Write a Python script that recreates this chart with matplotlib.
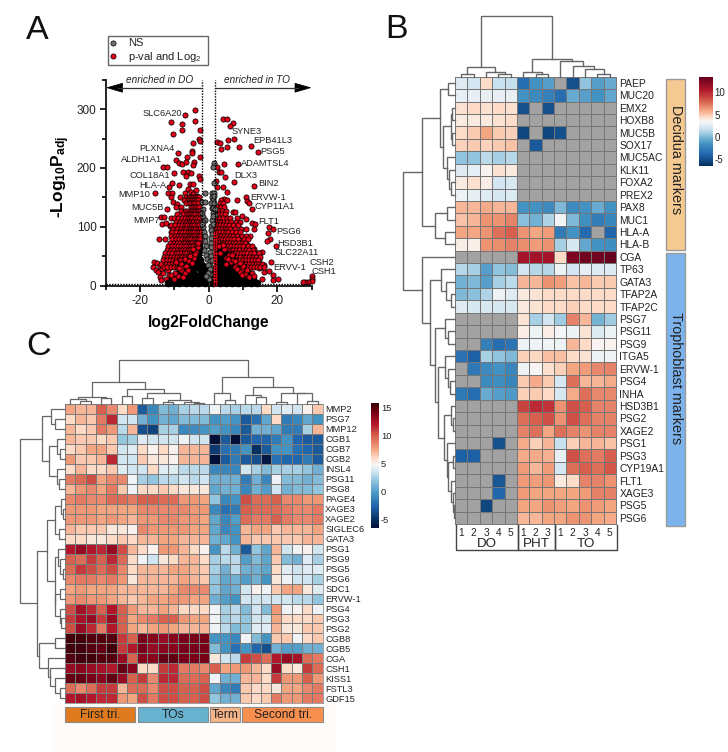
import matplotlib
matplotlib.use('Agg')
import matplotlib.pyplot as plt
import numpy as np
from matplotlib.colors import LinearSegmentedColormap, Normalize
from matplotlib.patches import Rectangle, Polygon

plt.rcParams['font.family'] = ['Liberation Sans', 'DejaVu Sans']
plt.rcParams['mathtext.fontset'] = 'custom'
plt.rcParams['mathtext.rm'] = 'Liberation Sans'
plt.rcParams['mathtext.bf'] = 'Liberation Sans:bold'
plt.rcParams['mathtext.default'] = 'regular'
plt.rcParams['axes.unicode_minus'] = False

nan = float('nan')

# panel A: volcano points
far_x = [-3.9,-6.9,-10.9,-7.6,-4,-7.7,-2.5,-10.3,-2.8,-2.4,-4.6,-8.8,-4.9,-4.9,-6.3,-2.4,-9.5,-4.1,-8.6,-7.8,-6.7,-4.4,-13.2,-12,-10.2,-7.4,-6,-5,-2.8,-2.6,-6.7,-5.5,-10.5,-11.5,-8.5,-15.5,-11.7,-10.5,-4.5,-5.9,-3.7,-6.9,-11,-10.4,-9.3,-5.2,-4.4,-3.5,-12.1,-13.8,-12.9,-13.5,-12.3,-11.2,-14.3,-11,-9.2,-7.7,
         4.3,5.5,7,6.1,7.3,5.7,2.6,3.4,5.4,3.6,9,12.5,14.3,4.4,8.5,2.6,3.1,3.6,4.8,2.2,7.5,13.3,2.4,4.1,5.3,11,11.2,11.7,8.4,12.6,4.4,5.3,7,7.6,9.7,10.9,12.6,13.6,17.5,18.9,17.3,13.1,17.8,17,19.5,18.3,17.6,18.9,18.7,20.1,15.5,30,30,30,29,28,27.4,12.2,9.2,10.8,11.7,13.2,14.3,15.6,14.7,16.1,13.4,14.8,16,12.5]
far_y = [298,290,278,275,279,265,265,257,250,246,242,225,229,225,219,218,214,211,208,206,210,205,201,202,192,193,194,191,187,181,187,172,174,168,171,157,158,158,172,165,163,157,150,143,138,160,156,153,130,116,116,104,107,102,79,92,91,102,
         283,283,277,272,250,247,245,243,236,233,236,238,228,207,206,201,194,193,185,178,176,169,168,167,160,150,144,141,146,130,148,146,126,125,119,114,107,105,99,96,89,96,79,76,67,41,25,18,10,11,12,16,12,8,7,7,6,85,78,72,68,62,55,58,46,35,40,30,24,31]

lobe_x = [-16,-16.2,-15,-14.2,-15.4,-14.7,-13.6,-13,-12.2,-13.3,-14.1,-12.5,-11.8,-11,-12.8,-10.7,-13.7,-11.5,-10.2]
lobe_y = [40,32,38,33,27,24,29,36,33,22,15,12,27,40,44,33,9,18,45]

band_y = [150,145,140,133,127,121,115,109,103,97,91,85,79,73,67,61,55,49,43,37,31]
band_x = [[-8.2,-6.5,-5.8,-5.2,-4.6,-4,-3.4,-2.9],
          [-7.1,-6,-5.4,-4.8,-4.2,-3.7,-3,3.6],
          [-6.6,-5.7,-5.1,-4.4,-3.9,-3.2,3.2,4.1],
          [-9.4,-7.9,-5.2,-4.6,-4,-3.3,-2.7,2.6,3.5,4.6],
          [-8.1,-6.9,-6.2,-5.5,-4.9,-4.2,-3.6,-3,-2.4,2.3,2.9,3.8,5.1],
          [-9.2,-7.3,-6.4,-5.8,-5.1,-4.5,-3.8,-3.1,-2.5,2.2,3.1,4,4.9],
          [-11,-10.2,-9,-7.8,-6.8,-6,-5.3,-4.7,-4,-3.3,-2.6,2.4,3.3,4.2,5.3,6.1,8.2],
          [-9.6,-8.4,-7.4,-6.5,-5.8,-5.1,-4.4,-3.7,-3,-2.3,2.2,2.9,3.7,4.6,5.4,6.5,7.9,9.2],
          [-10.8,-9.9,-8.7,-7.6,-6.8,-6.2,-5.5,-4.8,-4.1,-3.4,-2.7,2.5,3.3,4.1,5,5.9,7.2,8.6],
          [-10.4,-9.3,-8,-7.2,-6.5,-5.8,-5.1,-4.5,-3.8,-3.1,-2.4,2.3,3,3.9,4.7,5.5,6.3,7.7,9.4,10.9],
          [-10.6,-9.5,-8.4,-7.6,-6.9,-6.1,-5.4,-4.8,-4.2,-3.5,-2.8,-2.2,2.6,3.4,4.2,5,5.8,6.7,8,9.1],
          [-11,-9.9,-8.8,-7.9,-7.2,-6.5,-5.8,-5.1,-4.5,-3.9,-3.2,-2.5,2.2,2.9,3.7,4.5,5.3,6.2,7.1,8.4,9.6,10.8],
          [-12.6,-10.7,-9.6,-8.6,-7.8,-7,-6.3,-5.6,-5,-4.3,-3.7,-3,-2.4,2.4,3.2,4,4.8,5.6,6.5,7.4,8.6,10.2,11.4],
          [-11.3,-10.2,-9.2,-8.3,-7.5,-6.8,-6.1,-5.4,-4.7,-4,-3.3,-2.6,2.2,3,3.8,4.6,5.4,6.2,7,7.9,8.8,9.7,10.5],
          [-11.8,-10.6,-9.7,-8.8,-8,-7.2,-6.5,-5.8,-5.1,-4.4,-3.7,-3,2.5,3.3,4.1,4.9,5.7,6.6,7.4,8.3,9.2,10.1,11.6,12.6],
          [-12.2,-11,-10.1,-9.2,-8.4,-7.6,-6.8,-6.1,-5.4,-4.6,-3.9,-3.2,2.3,3,3.9,4.7,5.5,6.4,7.2,8.1,9,10,10.8,11.9,12.9],
          [-12.7,-11.6,-10.5,-9.6,-8.8,-8,-7.2,-6.5,-5.8,-5,-4.3,2.7,3.6,4.4,5.3,6.1,7,7.8,8.7,9.5,10.4,11.3,12.3,13.3,14.6],
          [-13.1,-12,-10.9,-10,-9.2,-8.4,-7.6,-6.9,-6.1,-5.4,3.2,4.1,5,5.8,6.7,7.5,8.4,9.3,10.2,11,11.9,12.8,13.9,15.1],
          [-13.4,-12.2,-11.2,-10.3,-9.5,-8.7,-7.9,-7.2,-6.5,3.8,4.7,5.6,6.5,7.3,8.2,9.1,10,10.8,11.7,12.6,13.5,14.5],
          [-13.7,-12.4,-11.5,-10.6,-9.8,-9,-8.2,-7.5,9.3,10.2,11,11.9,12.8,13.7,14.6,15.7],
          [-13,-12,-11,-10.1,-9.3,-8.5,10.5,11.4,12.3,13.2,14.1,15,16.2]]

core_y = [4,12,20,28,36,44,52,60,68]
core_x = [[-11.8,-10.2,-8.5,-6.7,-4.8,-3,-1.1,1.2,3.2,5,6.9,8.7,10.6,12.4,14.1],
          [-10.6,-8.9,-7.3,-5.4,-3.6,-1.8,0.2,2.4,4.2,6.1,7.9,9.8,11.6,13],
          [-9.4,-7.8,-5.9,-4.1,-2.3,-0.4,1.5,3.4,5.2,7.1,8.9,10.7,12],
          [-8.2,-6.3,-4.5,-2.6,-0.8,1,2.9,4.7,6.6,8.3,10],
          [-6.9,-5.2,-3.5,-1.9,2.4,4.1,5.9,7.6,9],
          [-5.4,-3.9,-2.5,2.6,4.2,5.8,7.2],
          [-4.5,-3.1,2.7,4.4,5.8],
          [-3.6,-2.4,2.8,4.2],
          [-2.9,2.6]]

speck_x = [-9.4,-8.1,-7,-5.6,-5,-4.1,-7.6,-6.2,-4.7,-6.9,-3.7,3.4,5.1,6.5,8,9.6,4.4,6,7.6,9.1,10.6,5.2,7.2,9.8,-8.8,-6,-10.2,11.8,-3.2,3.1,-7.9,-5.3,-4.4,-3,-8.6,-9.9,4.1,5.6,6.9,8.4,10.1,11.1,12.6,13.2,-6.6,-3.9,7.8,9.2,-10.8,-7.3]
speck_y = [41,37,46,42,52,47,30,33,38,22,58,55,47,40,35,29,62,53,31,24,20,37,44,18,16,26,12,14,66,68,26,50,62,72,30,22,70,46,52,28,34,26,22,16,34,54,42,38,18,14]

col_y = [3,8,13,18,24,29,34,40,45,51,56,62,67,73,78,84,89]
col_x = [1.9,2,1.9,2,1.9,2,1.9,2,1.9,2,2,1.9,2,2,1.9,2,1.9]

grey_x = [1.5,1.2,1.5,-1,1.1,0.9,1.2,-1.9,-1,0.7,1.5,1,-1.8,-1.5,-1,1.2,1,0.8,0.7,0.9,0.7,0.8,-1.5,-1.3,-1.1,-0.9,-0.8,1.6,1.7,-1.7,1.4,1.3,-1.2,-0.6,-0.5,0.6,0.5,0.6,0.5,0.5,0.4,0.5,-0.3,0.3,-0.2,0.1,1.1,1.8,-1.6,1.4,-1.9,1.9,-0.7]
grey_y = [208,201,175,157,157,151,146,143,142,140,140,132,123,117,112,123,112,102,95,88,81,73,100,92,84,76,68,158,152,130,132,105,60,52,45,66,58,50,42,34,27,20,35,28,22,12,44,120,108,118,104,130,16]

volcano_left = ['SLC6A20','PLXNA4','ALDH1A1','COL18A1','HLA-A','MMP10','MUC5B','MMP7']
volcano_left_pos = [(181.7,113.7),(174,148.7),(162,160),(170,175.3),(166,185.3),(149.7,194.3),(163.3,208),(159.3,220.7)]
volcano_right = ['SYNE3','EPB41L3','PSG5','ADAMTSL4','DLX3','BIN2','ERVW-1','CYP11A1','FLT1','PSG6','HSD3B1','SLC22A11','ERVV-1','CSH2','CSH1']
volcano_right_pos = [(231.7,131.7),(253.7,140.3),(260.7,151.7),(240.7,164),(234.7,175.3),(258.3,183.3),(250.7,198),(254.3,206.7),(258.3,221),(276.7,231.3),(277.7,243),(275,252.3),(273.7,268),(310,262.7),(311.7,271.7)]

# panel B
genes_b = ['PAEP','MUC20','EMX2','HOXB8','MUC5B','SOX17','MUC5AC','KLK11','FOXA2','PREX2','PAX8','MUC1','HLA-A','HLA-B','CGA','TP63','GATA3','TFAP2A','TFAP2C','PSG7','PSG11','PSG9','ITGA5','ERVW-1','PSG4','INHA','HSD3B1','PSG2','XAGE2','PSG1','PSG3','CYP19A1','FLT1','XAGE3','PSG5','PSG6']
heat_b = [[2.5,2,4.5,1.8,1.7,-3.5,-1.5,-1,nan,-5,0.5,-1,-0.5],
          [2.8,2.8,2.9,2.8,2.9,-1.5,-2,-2.5,-3.5,-0.5,-1,-1.5,-0.7],
          [4.3,4.5,4.3,4.5,4.3,-5,nan,-5,nan,nan,nan,nan,nan],
          [3.9,4,4,4.2,4.4,nan,nan,nan,nan,nan,nan,nan,nan],
          [4.5,5,6,5,4.8,-5.5,nan,-5.5,-5,nan,nan,nan,nan],
          [4.7,5,4.7,5,5.2,nan,-4.5,nan,nan,nan,nan,nan,nan],
          [0.5,0.5,1.5,1,1.3,nan,nan,nan,nan,nan,nan,nan,nan],
          [2.5,2.7,3.6,4.2,4,nan,nan,nan,nan,nan,nan,nan,nan],
          [3.9,4.3,3.8,2,2.3,nan,nan,nan,nan,nan,nan,nan,nan],
          [3,2.8,2.5,2.2,2.4,nan,nan,nan,nan,nan,nan,nan,nan],
          [5.5,5.5,5.8,5.5,5.5,-1.5,-1.5,-2,0,-2,-1.5,-0.5,-1.5],
          [5.2,5.5,6.5,6.5,7,0.3,-0.3,1.2,3.2,0,-1.7,-2.7,-2.2],
          [6,6,6.5,7.5,8,6.5,6,6.3,-2.8,-1.5,-3.8,nan,-4],
          [3.8,3.7,6.5,6.7,7,6.7,6.3,6.5,1,2.3,-0.7,-1.5,-1.7],
          [nan,nan,nan,nan,nan,11,11,11,4.5,12.5,13,13,13.5],
          [1.3,1,-1,0.5,0.2,2,1.3,1.3,3,2,2.7,2.5,2.5],
          [-0.3,0,-1,1,1.5,5.5,5.5,6.5,6.2,5.2,5.5,5,5],
          [0,0.3,1.2,3,2.5,4,4.2,4.5,4.5,4.5,4.5,4.5,4.5],
          [2.5,2.3,2.3,2.3,2.3,4,4.2,4.5,4.5,4.8,4.5,4.5,4.5],
          [nan,nan,nan,nan,nan,4.2,1,2,0.8,7,5.5,-0.2,0.8],
          [nan,nan,nan,nan,nan,3.8,3,3.8,3.3,3,4.2,2.4,3],
          [nan,nan,-2.5,-3.5,-3.2,3,3.2,3.2,3,5.5,4.5,3.5,3.6],
          [-3.3,-4.2,1,0.5,0,4.8,4.6,5.3,5.3,4.4,4.2,3,3.2],
          [nan,-3,-2,-1.5,-2.2,3,3.5,4.3,4.8,6,6.3,6.8,7],
          [nan,nan,-2,-1.7,-2.3,5,5.8,5,2.3,7.5,5.5,5.5,5.8],
          [-3,-3.5,-0.5,-1,-1.2,4.8,5,4.5,2.3,5.8,7.5,6.8,6.8],
          [nan,nan,nan,nan,nan,9,9.8,9.5,6.5,8.5,8,7,7],
          [nan,nan,nan,nan,nan,7.5,8,8.5,6.5,8.5,7.5,7,7],
          [nan,nan,nan,nan,nan,7,7.5,6,7.5,7,6.5,7,7],
          [nan,nan,nan,-5,nan,5.8,4.8,5.5,1.8,4.8,5.5,5.5,5.2],
          [-4.2,-4.2,nan,nan,nan,5.8,5.8,5.7,2.8,8.5,7.5,7.2,8],
          [nan,nan,nan,nan,nan,6.3,5.5,6.3,2.2,7.5,8,7.5,8.3],
          [nan,nan,nan,-4.7,nan,6.3,6.2,6.4,4,4.5,7,7,6.5],
          [nan,nan,nan,-4,nan,6.3,6,6,6,6,6.3,7,7],
          [nan,nan,-5.5,nan,nan,6,6,6.5,6.2,6,6.5,6.3,6],
          [nan,nan,nan,nan,nan,5.5,5.5,6,6,6.5,6.5,6,5.8]]
samples_b = ['1','2','3','4','5','1','2','3','1','2','3','4','5']
groups_b = ['DO','PHT','TO']
group_sizes_b = [5,3,5]
top_tree_b = (60.5,(9.3,(2.7,0,1),(5,2,(2.7,3,4))),(17.7,(5,5,(3,6,7)),(16,8,(10.7,9,(7.3,10,(2.5,11,12))))))
left_tree_b = (52,
    (32.7,
     (15,(7.3,0,1),(11.7,(4,(3.3,2,3),(3.3,4,5)),(8.3,6,(5.7,7,(4,8,9))))),
     (20,(7.7,10,11),(10,12,13))),
    (32.7,14,
     (25,
      (14.3,15,(9,16,(4.3,17,18))),
      (20,
       (10,19,(6.7,20,21)),
       (16.7,
        (10,22,(6.7,23,(5,24,25))),
        (10.7,
         (4,26,(1.7,27,28)),
         (7.7,29,(6.7,(2.5,30,31),(4,32,(2.5,33,(1.5,34,35)))))))))))

# panel C
genes_c = ['MMP2','PSG7','MMP12','CGB1','CGB7','CGB2','INSL4','PSG11','PSG8','PAGE4','XAGE3','XAGE2','SIGLEC6','GATA3','PSG1','PSG9','PSG5','PSG6','SDC1','ERVW-1','PSG4','PSG3','PSG2','CGB8','CGB5','CGA','CSH1','KISS1','FSTL3','GDF15']
heat_c = [[7.5,7,7,10,8.5,6,8,-3,-1,1.5,1,2.5,3,3,4.5,3,2.5,3,3,6,3.5,4,3.5,5,6.5],
          [6,7,6.5,9,11.5,3.5,3.5,1,-0.5,1,0.5,1.5,1.5,1.5,-0.5,0,-0.5,-3,-2,0.5,6,-1.5,-1,0.5,-0.5],
          [7,6,6.5,9,8,3,7,-3.5,-4,2.5,2.5,-1,-0.8,-0.5,0,-0.5,-1,-3,1,1,0.5,-1.5,-1.5,2.5,7],
          [7,6.5,6.5,6,6.5,2,2.5,4,3.5,3.5,3.5,4.5,3.5,3.5,-7,-3,-7,-3,-2.5,-2.5,-1.5,-0.5,-2.5,-3,-3],
          [6,6.5,7.5,7.5,6.5,3.5,4,6,5,6,5,7,7,7,-4.5,-2,-1.5,-0.5,-5,-3,-0.5,-0.5,-2,-2.5,-3],
          [8,6.5,6.5,7,11.5,3.5,3.5,6.5,5.5,5.5,5,7,7,7,-6.5,-3,-1.5,-3,-3.5,-6,-2,-2.5,-2.5,-1.5,-3],
          [6,7,6,6,6.5,4,3.5,3.5,6,4,4,3,3,3,-1,-1,-1,3.5,2.5,1.5,2.5,2.5,2.5,2,1],
          [9,9.5,10.5,7.5,8.5,8.5,4.5,2.5,2,3,3,3.5,3,3.5,1,1,1,-1.5,1,-1,4.5,1.5,1.5,1,1.5],
          [7,8,8.5,7.5,9,6.5,4.5,6,6,6.5,6,5.5,5.5,5.5,0.5,1,1,-1,1,0,3.5,1,1.5,1.5,2],
          [8.5,9,8.5,8.5,9.5,9.5,9,10,10,9.5,9.5,8,8,7.5,2,-1,-0.5,10.5,9.5,9.5,10,8.5,8.5,8,8],
          [8,8,8,7.5,7.5,7.5,7.5,8.5,8.5,8.5,8.5,8.5,8,8,-1,-2,-1.5,10,9.5,9.5,9.5,9,8.5,8.5,9],
          [8,8,8,7.5,8,7.5,7,8,8,8.5,8.5,8,8,7.5,0.5,-1,0,9.5,9,9,10,9,8.5,8.5,9],
          [7,6.5,6.5,6.5,5.5,5.5,5,8.5,8,8,8,8,7.5,7.5,0.5,-1,-0.5,7,7.5,7.5,6.5,7,7,7,7.5],
          [6,6,5.5,5.5,6,6.5,6,7,7,7.5,7.5,7,7,7,1,0.5,-0.5,7,6.5,6.5,6.5,6.5,6.5,7,7],
          [12,13,12,11.5,13,10.5,7,6,5,8,8,7,6,5,-0.5,3,1,-3,2,0.5,7,3.5,4.5,5,3.5],
          [10,9.5,11,10,11.5,9.5,6,4.5,3.5,5.5,6,7,7,6,2.5,3,3,0,1.5,0.5,6.5,1.5,1,4,2.5],
          [9.5,11,10.5,9.5,10.5,8.5,6,7,7,7,7.5,7.5,7,6.5,2.5,1,3,1,1,0.5,6,4,3.5,4,4],
          [8.5,9,9,8.5,9,8,5.5,7,7,7,7,7.5,7,6.5,2,0.5,1,0,1,-0.5,5.5,4.5,3.5,3.5,2.5],
          [7.5,8,7.5,7.5,7.5,7,7,7,7,7,7.5,8.5,8.5,8.5,2,0.5,1,3.5,5,4.5,6.5,7.5,7.5,5.5,4],
          [8,8.5,8,8,7.5,7,6.5,7,7.5,7.5,8,8,7.5,7.5,1,0,-0.5,3.5,3.5,3.5,3.5,3.5,3,3,2],
          [10.5,12.5,11.5,10,12,10,8,7,7,7.5,7,6,6,6,4.5,2.5,3,1.5,3.5,1.5,8,4.5,5,6,4.5],
          [11,12.5,13,11,13,10,7.5,8.5,9,10,10,8,7.5,7.5,4.5,2.5,3,2,3.5,3.5,7.5,6,6,6,6.5],
          [10.5,13,11.5,9,12,10,7.5,7,7.5,8,7.5,7,7,7,4.5,3,1.5,2,4,4,7,5.5,5.5,6.5,6.5],
          [15.5,15.5,15,15,15,11,10,14,13.5,13,13.5,14,14,14,-0.5,-0.5,-1,4.5,1.5,-0.5,6.5,6.5,4.5,6,6.5],
          [15.5,15.5,15,14.5,15.5,11,12,14,13,13.5,13.5,14,14,14,1.5,-0.5,-2,-0.5,-2.5,-3.5,1,0,0,1,1],
          [15,15.5,15.5,15,15,13,10,13.5,13.5,14.5,14.5,14,14,14,5.5,3.5,3,11,10.5,9.5,12,13,12.5,9.5,9],
          [13,13.5,13,12.5,12,14.5,13.5,6,6,11,11.5,9,9,8.5,10,7.5,8,8,7,6,13,6,5.5,11,9.5],
          [14.5,14.5,14,13.5,14.5,13,10,11,8.5,11.5,11.5,9.5,9.5,10,4.5,1,1,7,7,6,11,8,8,10,8],
          [9.5,8.5,9.5,11,11,7,9.5,9.5,8.5,10.5,10.5,10,10,10.5,0.5,-1,-1.5,6.5,6,6,5.5,7.5,7.5,8.5,9],
          [12,12.5,12,11.5,11.5,8,7.5,10.5,9,10.5,10.5,10,10,10.5,2,1,1,6.5,6,6.5,9,8,8,9,9]]
groups_c = ['First tri.','TOs','Term','Second tri.']
group_colors_c = ['#e07a1f','#67b3cf','#f7b487','#f98f4f']
top_tree_c = (44,
    (22,(7.3,(4.7,0,(3,1,2)),(6,3,4)),
        (15.5,(8,5,6),(10.7,(6,7,8),(4,(2,9,10),(2,11,(1.5,12,13)))))),
    (26.7,(10.7,14,(4,15,16)),
          (17.3,(9,17,(6.7,18,19)),(11,(2.3,20,21),(10.7,22,(3,23,24))))))
left_tree_c = (45,
    (22.7,
     (14.3,0,(10,1,2)),
     (15.7,(8.3,3,(5,4,5)),(8.3,6,(5.7,7,8)))),
    (28.3,
     (18.3,
      (10,(4.3,9,(1.7,10,11)),(5.7,12,13)),
      (10,
       (6.7,14,(5,15,(1.7,16,17))),
       (10,(5,18,19),(5,20,(4.5,21,22))))),
     (25.7,
      (10,23,24),
      (16.7,25,(15,26,(10,27,(5,28,29)))))))

# colour stops of the two colour bars, value then colour
stops_b = [-6.43,-4,-1.5,0.5,2,3.4,4.5,6,8,10.5,13.35]
stop_colors_b = ['#053061','#2166ac','#4393c3','#92c5de','#d1e5f0','#f7f7f7','#fddbc7','#f4a582','#d6604d','#b2182b','#67001f']
stops_c = [-6.4,-5,-2.5,-0.5,2,3.5,4.8,6,7.5,10,12,14,15.7]
stop_colors_c = ['#03113a','#053061','#2166ac','#4393c3','#92c5de','#d1e5f0','#f7f7f7','#fddbc7','#f4a582','#d6604d','#b2182b','#7a0019','#3a0008']

fig = plt.figure(figsize=(7.28, 7.52), dpi=100)
W, H = 728.0, 752.0

def px_axes(x0, y0, x1, y1, **kw):
    return fig.add_axes([x0/W, 1-y1/H, (x1-x0)/W, (y1-y0)/H], **kw)

def flat_rows(rows_y, rows_x):
    xs = np.concatenate([np.array(r, dtype=float) for r in rows_x])
    ys = np.repeat(rows_y, [len(r) for r in rows_x])
    return xs, ys

def stop_cmap(name, stops, colors):
    pos = (np.array(stops)-stops[0])/(stops[-1]-stops[0])
    return LinearSegmentedColormap.from_list(name, list(zip(pos, colors)), N=256)

# overlay in pixel coordinates for annotation
ov = fig.add_axes([0, 0, 1, 1], zorder=10)
ov.set_xlim(0, W)
ov.set_ylim(H, 0)
ov.axis('off')
ov.patch.set_alpha(0)

ov.add_patch(Rectangle((52, 704), 285, 48, fc='#fdfcfa', ec='none', zorder=0))

def draw_tree(node, pos, base, vertical, color='#666666', lw=1.0):
    # node is a leaf index or (height, left, right)
    if not isinstance(node, tuple):
        return pos(node), 0
    h, a, b = node
    pa, ha = draw_tree(a, pos, base, vertical, color, lw)
    pb, hb = draw_tree(b, pos, base, vertical, color, lw)
    if vertical:
        ov.plot([pa, pa, pb, pb], [base-ha, base-h, base-h, base-hb], color=color, lw=lw, solid_joinstyle='miter')
    else:
        ov.plot([base-ha, base-h, base-h, base-hb], [pa, pa, pb, pb], color=color, lw=lw, solid_joinstyle='miter')
    return (pa+pb)/2, h

# A
red = '#e60019'
ax = px_axes(105.5, 79.7, 311.6, 285.7)
band_px, band_py = flat_rows(band_y, band_x)
core_px, core_py = flat_rows(core_y, core_x)
kw = dict(s=14, linewidths=0.55, edgecolors='black', clip_on=False)
ax.scatter(far_x, far_y, c=red, zorder=3, **kw)
ax.scatter(lobe_x, lobe_y, c=red, zorder=3, **kw)
ax.scatter(band_px, band_py, c=red, zorder=3, **kw)
ax.scatter(core_px, core_py, c='black', s=30, linewidths=0, zorder=4, clip_on=False)
ax.scatter(grey_x, grey_y, c='#707070', zorder=5, **kw)
ax.scatter(speck_x, speck_y, c=red, zorder=5, **kw)
ax.scatter(col_x, col_y, c='#f0001a', s=10, linewidths=0.2, edgecolors='black', zorder=6, clip_on=False)
ax.axvline(-2, color='black', lw=1, ls=(0, (1, 1)), zorder=7)
ax.axvline(2, color='black', lw=1, ls=(0, (1, 1)), zorder=7)
ax.axhline(3, color='black', lw=1, ls=(0, (1, 1)), zorder=7)
ax.set_xlim(-30, 30)
ax.set_ylim(0, 350)
ax.patch.set_alpha(0)
for s in ['top', 'right']:
    ax.spines[s].set_visible(False)
ax.spines['left'].set_linewidth(1.2)
ax.spines['bottom'].set_linewidth(1.2)
ax.set_xticks([-20, 0, 20])
ax.set_xticks([-30, -10, 10, 30], minor=True)
ax.set_yticks([0, 100, 200, 300])
ax.set_yticks([50, 150, 250, 350], minor=True)
ax.tick_params(which='major', length=4.5, width=1.2, labelsize=8.5, pad=2, labelcolor='#222222')
ax.tick_params(which='minor', length=2.8, width=1.2)
ax.set_xlabel('log2FoldChange', fontsize=11.2, fontweight='bold')
ax.xaxis.set_label_coords(0.5, (285.7-314.5)/206)
ax.set_ylabel(r'-Log$_{\mathbf{10}}$P$_{\mathbf{adj}}$', fontsize=12.5, fontweight='bold')
ax.yaxis.set_label_coords((72-105.5)/206.1, (285.7-177)/206)

ov.add_patch(Rectangle((107.5, 35.5), 100.5, 29.5, fc='white', ec='#666666', lw=1))
ov.scatter([113], [42.5], c='#707070', s=14, linewidths=0.5, edgecolors='black')
ov.scatter([113], [56], c=red, s=14, linewidths=0.5, edgecolors='black')
ov.text(128.5, 42.5, 'NS', fontsize=8, va='center', color='#222222')
ov.text(128.5, 57, 'p-val and Log$_2$', fontsize=8, va='center', color='#222222')

ov.plot([118, 202], [87.7, 87.7], color='#333333', lw=0.9)
ov.plot([215, 298], [87.7, 87.7], color='#333333', lw=0.9)
ov.add_patch(Polygon([(107, 87.7), (122.5, 83.3), (122.5, 92.2)], fc='black', ec='black', lw=0.5))
ov.add_patch(Polygon([(310.5, 87.7), (295, 83.3), (295, 92.2)], fc='black', ec='black', lw=0.5))
ov.text(159.5, 80.3, 'enriched in DO', fontsize=7.2, style='italic', ha='center', va='center', color='#222222')
ov.text(257, 80.3, 'enriched in TO', fontsize=7.2, style='italic', ha='center', va='center', color='#222222')
for name, (x, y) in zip(volcano_left, volcano_left_pos):
    ov.text(x, y, name, fontsize=6.7, ha='right', va='center', color='#222222')
for name, (x, y) in zip(volcano_right, volcano_right_pos):
    ov.text(x, y, name, fontsize=6.7, ha='left', va='center', color='#222222')

# B
cmap_b = stop_cmap('heat_b', stops_b, stop_colors_b)
cmap_b.set_bad('#a2a2a2')
norm_b = Normalize(vmin=-6.43, vmax=13.35)
ax_b = px_axes(455, 76.7, 616, 524)
mesh_b = ax_b.pcolormesh(np.ma.masked_invalid(np.array(heat_b)), cmap=cmap_b, norm=norm_b, edgecolors='#767676', linewidth=0.6)
ax_b.invert_yaxis()
ax_b.set_xticks([])
ax_b.yaxis.tick_right()
ax_b.set_yticks(np.arange(len(genes_b))+0.5)
ax_b.set_yticklabels(genes_b, fontsize=7.4, color='#222222')
ax_b.tick_params(axis='y', length=0, pad=2.5)
for s in ax_b.spines.values():
    s.set_edgecolor('#767676')
    s.set_linewidth(0.7)

cw_b = 161/13.0
rh_b = 447.3/36.0
draw_tree(top_tree_b, lambda i: 455+cw_b*(i+0.5), 76.7, True)
draw_tree(left_tree_b, lambda i: 76.7+rh_b*(i+0.5), 455, False)

for i, s in enumerate(samples_b):
    ov.text(455+cw_b*(i+0.5), 533, s, fontsize=7.3, ha='center', va='center', color='#222222')
start = 0
for name, size in zip(groups_b, group_sizes_b):
    x0 = 455.7+cw_b*start
    x1 = 455.7+cw_b*(start+size)
    ov.plot([x0, x0, x1, x1], [525, 550, 550, 525], color='#444444', lw=1)
    ov.text((x0+x1)/2, 544, name, fontsize=9.6, ha='center', va='center', color='#222222')
    start += size

ov.add_patch(Rectangle((666.3, 78.7), 18.7, 171.3, fc='#f5c992', ec='#9a9a9a', lw=1))
ov.add_patch(Rectangle((666.3, 252.7), 18.7, 273.3, fc='#7cb3ec', ec='#9a9a9a', lw=1))
ov.text(675.7, 160, 'Decidua markers', fontsize=10.4, rotation=270, ha='center', va='center', color='#222222')
ov.text(675.7, 378, 'Trophoblast markers', fontsize=10.4, rotation=270, ha='center', va='center', color='#222222')

cax_b = px_axes(699.3, 77.3, 712.7, 165.7)
cb_b = fig.colorbar(mesh_b, cax=cax_b, ticks=[-5, 0, 5, 10])
cb_b.outline.set_visible(False)
cb_b.ax.tick_params(length=0, labelsize=7, pad=1.5, labelcolor='#222222')

# C
cmap_c = stop_cmap('heat_c', stops_c, stop_colors_c)
norm_c = Normalize(vmin=-6.4, vmax=15.7)
ax_c = px_axes(65, 404, 322.7, 703.3)
mesh_c = ax_c.pcolormesh(np.array(heat_c), cmap=cmap_c, norm=norm_c, edgecolors='#7c7c7c', linewidth=0.45)
ax_c.invert_yaxis()
ax_c.set_xticks([])
ax_c.yaxis.tick_right()
ax_c.set_yticks(np.arange(len(genes_c))+0.5)
ax_c.set_yticklabels(genes_c, fontsize=6.7, color='#222222')
ax_c.tick_params(axis='y', length=0, pad=1.8)
for s in ax_c.spines.values():
    s.set_edgecolor('#7c7c7c')
    s.set_linewidth(0.5)

cw_c = 257.7/25.0
rh_c = 299.3/30.0
draw_tree(top_tree_c, lambda i: 65+cw_c*(i+0.5), 404, True, lw=0.9)
draw_tree(left_tree_c, lambda i: 404+rh_c*(i+0.5), 65, False, lw=0.9)

strip_x0 = [65, 138, 210, 242]
strip_x1 = [135.3, 208.3, 240, 323.3]
for name, col, x0, x1 in zip(groups_c, group_colors_c, strip_x0, strip_x1):
    ov.add_patch(Rectangle((x0, 707.3), x1-x0, 14.7, fc=col, ec='#8a8a8a', lw=0.8))
    ov.text((x0+x1)/2, 714.8, name, fontsize=8.7, ha='center', va='center', color='#222222')

cax_c = px_axes(370.7, 403.3, 379, 527.7)
cb_c = fig.colorbar(mesh_c, cax=cax_c, ticks=[-5, 0, 5, 10, 15])
cb_c.outline.set_visible(False)
cb_c.ax.tick_params(length=0, labelsize=6.7, pad=1.5, labelcolor='#222222')

# panel letters
ov.text(26, 39, 'A', fontsize=24.5, color='#111111')
ov.text(385, 38, 'B', fontsize=24.5, color='#111111')
ov.text(26, 355, 'C', fontsize=24.5, color='#111111')

fig.savefig('out.png', dpi=100)
